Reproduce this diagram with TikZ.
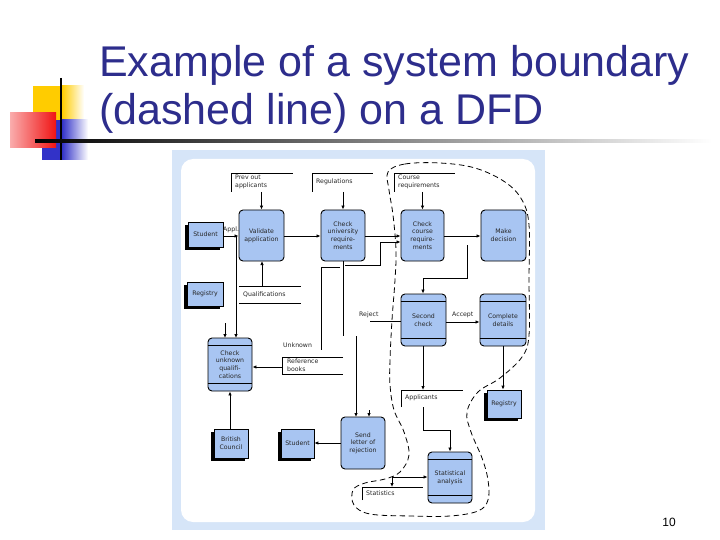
\documentclass[tikz,border=0pt]{standalone}
\usepackage{fontspec}
\setmainfont{Liberation Sans}
\newfontfamily\dfdfont{DejaVu Sans}
\usetikzlibrary{arrows.meta,shadows}
\definecolor{titleblue}{RGB}{45,45,140}
\definecolor{panelblue}{RGB}{214,229,248}
\definecolor{boxblue}{RGB}{168,197,242}
\definecolor{sqyellow}{RGB}{255,204,0}
\definecolor{sqred}{RGB}{240,20,20}
\definecolor{sqblue}{RGB}{50,50,200}
\begin{document}
\begin{tikzpicture}[x=1pt,y=-1pt,
  tx/.style={font=\dfdfont\fontsize{6.2}{7.7}\selectfont, text=black!85, inner sep=0pt, align=center},
  proc/.style={tx, draw=black, fill=boxblue, line width=0.9pt, rounded corners=4pt},
  ext/.style={tx, draw=black, fill=boxblue, line width=0.7pt,
    drop shadow={shadow xshift=-2.6pt, shadow yshift=-2.6pt, fill=black, opacity=1}},
  flow/.style={line width=0.8pt, -{Latex[length=4pt,width=3.5pt]}},
  bothflow/.style={line width=0.8pt, {Latex[length=4pt,width=3.5pt]}-{Latex[length=4pt,width=3.5pt]}},
  plain/.style={line width=0.8pt},
  store/.style={line width=0.8pt},
  lbl/.style={tx, align=left},
  boundary/.style={dash pattern=on 5.5pt off 3.5pt, line width=0.8pt}
]
\useasboundingbox (0,0) rectangle (720,540);
\fill[white] (0,0) rectangle (720,540);

% ---- decoration
\fill[sqyellow] (33,86) rectangle (62,120);
\shade[left color=sqyellow, right color=white] (62,86) rectangle (84,120);
\fill[sqblue] (42,120) rectangle (62,160);
\shade[left color=sqblue, right color=white] (62,120) rectangle (88,160);
\shade[left color=sqred!35, right color=sqred] (10,113) rectangle (56,148);
\draw[line width=2pt] (61,78) -- (61,160);
\shade[left color=black, middle color=black!40, right color=white] (35,140) rectangle (712,142.2);

% ---- title
\node[anchor=base west, text=titleblue, font=\fontsize{43}{50}\selectfont, inner sep=0pt] (t1) at (99,77) {Example of a system boundary};
\node[anchor=base west, text=titleblue, font=\fontsize{43}{50}\selectfont, inner sep=0pt] (t2) at (99,125) {(dashed line) on a DFD};

% ---- panel
\fill[panelblue] (172,150) rectangle (545,530);
\fill[white, rounded corners=12pt] (181,159) rectangle (535,522);

% ---- system boundary
\draw[boundary] plot[smooth cycle, tension=0.6] coordinates {(388,172) (405,164) (440,163) (475,168) (505,182) (522,200) (529,225) (529,280) (529,335) (522,357) (500,378) (478,392) (467,412) (471,432) (482,458) (488,480) (488,500) (478,511) (450,516) (410,516) (370,514) (354,505) (353,490) (365,483) (385,479) (400,472) (409,455) (404,432) (394,410) (390,385) (390,360) (392,320) (395,280) (396,250) (393,215) (389,190)};

% ---- processes
\node[proc, minimum width=45pt, minimum height=51pt] (validate) at (261.5,235.5) {Validate\\application};
\node[proc, minimum width=44pt, minimum height=51pt] (checkuni) at (343,235.5) {Check\\university\\require-\\ments};
\node[proc, minimum width=43pt, minimum height=51pt] (checkcourse) at (422.5,235.5) {Check\\course\\require-\\ments};
\node[proc, minimum width=45pt, minimum height=51pt] (makedec) at (503.5,235.5) {Make\\decision};
\node[proc, minimum width=45pt, minimum height=52pt] (second) at (423.5,320) {Second\\check};
\node[proc, minimum width=46pt, minimum height=52pt] (complete) at (503,320) {Complete\\details};
\node[proc, minimum width=44pt, minimum height=53pt] (checkunk) at (230,364.5) {Check\\unknown\\qualifi-\\cations};
\node[proc, minimum width=44pt, minimum height=52pt] (send) at (363,443) {Send\\letter of\\rejection};
\node[proc, minimum width=44pt, minimum height=51pt] (stat) at (450,477.5) {Statistical\\analysis};
\foreach \n in {second,complete,checkunk,stat}{
  \draw[line width=0.8pt] ([yshift=-8pt]\n.north west) -- ([yshift=-8pt]\n.north east);
  \draw[line width=0.8pt] ([yshift=8pt]\n.south west) -- ([yshift=8pt]\n.south east);
}

% ---- external entities
\node[ext, minimum width=35pt, minimum height=25pt] (student1) at (205.5,234.5) {Student};
\node[ext, minimum width=36pt, minimum height=24pt] (registry1) at (205,294) {Registry};
\node[ext, minimum width=34pt, minimum height=29pt] (british) at (231,443.5) {British\\Council};
\node[ext, minimum width=33pt, minimum height=29pt] (student2) at (297.5,443.5) {Student};
\node[ext, minimum width=34pt, minimum height=28pt] (registry2) at (504,404) {Registry};

% ---- data stores
\node[lbl, anchor=north west] (prevout) at (235,175) {Prev out\\applicants};
\draw[store] (231,192) -- (231,173) -- (293,173);
\node[lbl, anchor=north west] (regs) at (316,179) {Regulations};
\draw[store] (312,192) -- (312,173) -- (373,173);
\node[lbl, anchor=north west] (course) at (398,175) {Course\\requirements};
\draw[store] (394,192) -- (394,173) -- (455,173);
\node[lbl, anchor=north west] (qualif) at (243,292) {Qualifications};
\draw[store] (239,286) -- (301,286);
\draw[store] (239,303) -- (301,303);
\node[lbl, anchor=north west] (refbooks) at (287,359) {Reference\\books};
\draw[store] (343,357) -- (282,357) -- (282,374) -- (343,374);
\node[lbl, anchor=north west] (applicants) at (405,395) {Applicants};
\draw[store] (401,407) -- (401,390) -- (463,390);
\node[lbl, anchor=north west] (statistics) at (366,491) {Statistics};
\draw[store] (362,500) -- (362,487) -- (423,487);

% ---- connectors
\coordinate (pvout) at (261.5,192);
\coordinate (rgout) at (343,192);
\coordinate (crout) at (422.5,192);
\draw[flow] (pvout) -- (validate.north);
\draw[flow] (rgout) -- (checkuni.north);
\draw[flow] (crout) -- (checkcourse.north);

\draw[flow] (student1.east |- 0,236) -- (validate.west |- 0,236);
\node[lbl, anchor=base west] (appl) at (223,231) {Appl.};
\draw[flow] (236,236) -- (236,338);
\draw[flow] (225,323) -- (225,338);

\draw[flow] (validate.east |- 0,236) -- (checkuni.west |- 0,236);
\draw[flow] (262,286) -- (262,261);
\draw[flow] (checkuni.east |- 0,236) -- (checkcourse.west |- 0,236);
\draw[flow] (checkcourse.east |- 0,236) -- (makedec.west |- 0,236);

\draw[flow] (467,245) -- (467,278) -- (423,278) -- (second.north -| 423,0);

\draw[plain] (343,261) -- (343,336);
\draw[plain] (340,267) -- (321,267) -- (321,350);
\draw[flow] (345,265) -- (380,265) -- (380,242) -- (checkcourse.west |- 0,242);
\node[lbl, anchor=base west] (unknown) at (283,347) {Unknown};

\draw[flow] (refbooks.west |- 0,367) ++(-5,0) -- (checkunk.east |- 0,367);
\draw[flow] (356,336) -- (356,417);
\draw[plain] (second.west |- 0,321) -- (370,321);
\coordinate (rjend) at (369,410);
\draw[flow] (rjend) -- (369,417);
\node[lbl, anchor=base west] (reject) at (359,316) {Reject};

\draw[flow] (second.east |- 0,322) -- (complete.west |- 0,322);
\node[lbl, anchor=base west] (accept) at (452,316) {Accept};

\draw[flow] (complete.south -| 503,0) -- (registry2.north -| 503,0);
\draw[flow] (second.south -| 423,0) -- (423,390);
\draw[flow] (423,407) -- (423,430) -- (450,430) -- (stat.north);
\draw[bothflow] (stat.west |- 0,477) -- (392,477) -- (392,487);

\draw[flow] (british.north -| 230,0) -- (checkunk.south -| 230,0);
\draw[flow] (send.west |- 0,443) -- (student2.east |- 0,443);

% ---- page number
\node[font=\fontsize{12}{14}\selectfont, inner sep=0pt] (pg) at (669,522) {10};
\end{tikzpicture}
\end{document}
